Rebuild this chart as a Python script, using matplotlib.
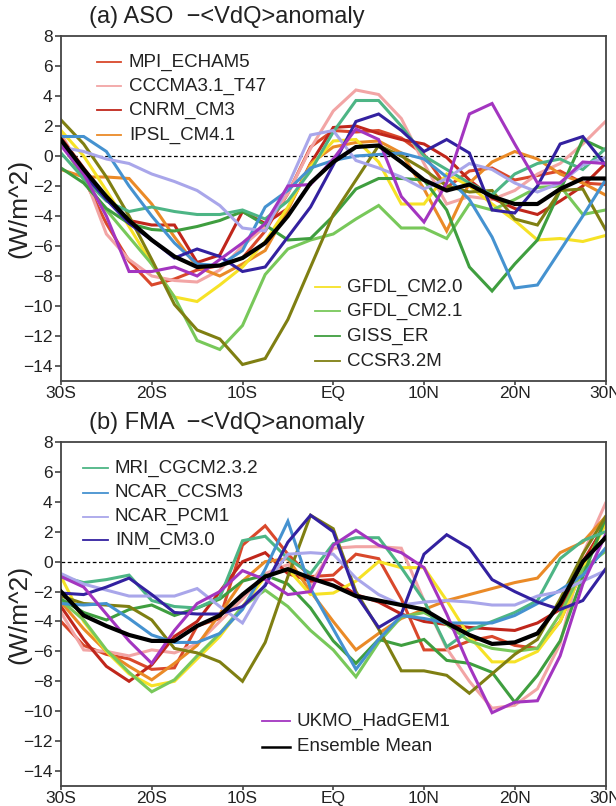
import matplotlib
matplotlib.use("Agg")
import matplotlib.pyplot as plt
from matplotlib.lines import Line2D

plt.rcParams['font.family'] = ['Liberation Sans', 'DejaVu Sans']

# latitude grid (degrees, negative = south)
lat = [-30, -27.5, -25, -22.5, -20, -17.5, -15, -12.5, -10, -7.5, -5, -2.5, 0,
       2.5, 5, 7.5, 10, 12.5, 15, 17.5, 20, 22.5, 25, 27.5, 30]

xtick_pos = [-30, -20, -10, 0, 10, 20, 30]
xtick_lab = ['30S', '20S', '10S', 'EQ', '10N', '20N', '30N']
ytick_pos = [-14, -12, -10, -8, -6, -4, -2, 0, 2, 4, 6, 8]

models = ['MPI_ECHAM5', 'CCCMA3.1_T47', 'CNRM_CM3', 'IPSL_CM4.1', 'GFDL_CM2.0',
          'GFDL_CM2.1', 'GISS_ER', 'CCSR3.2M', 'MRI_CGCM2.3.2', 'NCAR_CCSM3',
          'NCAR_PCM1', 'INM_CM3.0', 'UKMO_HadGEM1']
colors = ['#d9482b', '#f2a5a5', '#c0261b', '#ea8a27', '#f6e226',
          '#78c85a', '#3f9e3f', '#7f7f12', '#4db585', '#4592d0',
          '#a9a6ea', '#3321a0', '#a335c0']

# ---- (a) ASO -<VdQ> anomaly (W/m^2)
aso_mpi = [1.3, -1.5, -4.5, -7.0, -8.6, -8.2, -7.6, -7.3, -6.8, -5.0, -2.5, 0.6, 1.7,
           1.6, 1.7, 1.2, 0.1, -2.1, -1.0, -0.8, -1.6, -1.3, -1.0, -1.8, -1.9]
aso_cccma = [1.5, -1.2, -5.2, -6.9, -8.0, -8.3, -8.4, -7.6, -6.0, -4.7, -2.5, 0.5, 3.0,
             4.4, 4.1, 2.5, -0.5, -3.2, -2.7, -2.9, -2.3, -1.2, -0.5, 0.8, 2.3]
aso_cnrm = [1.2, -0.8, -2.8, -4.3, -4.6, -4.6, -7.1, -6.6, -3.7, -4.5, -3.5, -0.5, 1.9,
            2.0, 1.5, 1.1, 0.8, -0.1, -1.6, -2.8, -3.5, -3.9, -3.0, -2.0, -0.5]
aso_ipsl = [-0.9, -1.4, -1.4, -1.5, -3.2, -5.4, -7.4, -8.0, -7.2, -6.3, -3.6, -0.5, 0.6,
            0.9, 1.0, 0.2, -2.2, -5.0, -1.8, -0.4, 0.3, -0.2, -1.2, -1.8, -2.6]
aso_gfdl20 = [1.7, 0.0, -2.3, -4.7, -7.2, -9.4, -9.7, -8.6, -7.4, -5.7, -3.4, -0.7, 1.0,
              1.1, -0.4, -3.2, -3.2, -1.2, -2.0, -3.2, -4.3, -5.6, -5.5, -5.7, -5.3]
aso_gfdl21 = [1.0, -1.6, -3.6, -5.4, -7.2, -9.4, -12.3, -12.9, -11.3, -7.9, -6.2, -5.6, -5.2,
              -4.2, -3.3, -4.8, -4.8, -5.5, -3.2, -3.6, -2.9, -2.1, -2.0, -3.9, -3.6]
aso_giss = [-0.8, -1.8, -3.5, -4.5, -4.9, -5.0, -4.7, -4.3, -3.7, -4.6, -5.6, -5.5, -4.0,
            -2.2, -1.5, -1.5, -1.6, -3.6, -7.4, -9.0, -7.2, -5.6, -2.3, 1.1, 0.4]
aso_ccsr = [2.4, 0.8, -1.4, -4.0, -6.9, -9.9, -11.6, -12.2, -13.9, -13.5, -10.9, -7.4, -3.9,
            -1.6, 0.7, 0.0, -0.9, -2.0, -2.4, -2.3, -4.2, -4.6, -2.3, -2.2, -4.9]
aso_mri = [0.2, -1.5, -3.0, -3.7, -3.4, -3.7, -3.9, -3.9, -3.6, -4.2, -3.0, -1.0, 1.6,
           3.7, 3.7, 2.0, 0.0, -0.9, -1.8, -2.6, -1.2, -0.5, -0.2, -0.9, 0.5]
aso_ccsm = [1.3, 1.3, 0.3, -2.0, -4.0, -5.8, -7.2, -7.3, -6.3, -3.4, -2.3, -0.8, -0.3,
            0.0, 0.1, 0.2, -0.2, -1.4, -2.9, -5.4, -8.8, -8.6, -6.3, -4.0, -1.6]
aso_pcm = [0.6, 0.3, -0.2, -0.5, -1.2, -1.7, -2.3, -3.3, -4.8, -5.0, -2.0, 1.4, 1.7,
           -0.3, -0.8, -1.4, -2.2, -1.5, -0.5, -0.9, -1.8, -2.4, -1.8, -0.6, -0.1]
aso_inm = [0.8, -1.2, -2.9, -4.5, -5.6, -6.8, -6.2, -6.7, -7.7, -7.4, -5.4, -3.4, -0.6,
           2.3, 2.8, 1.7, 0.3, 1.1, 0.2, -3.6, -3.8, -2.0, 0.8, 1.3, -0.6]
aso_ukmo = [0.7, -1.2, -4.0, -7.7, -7.7, -7.4, -8.0, -6.9, -5.8, -4.5, -2.0, -1.9, -0.2,
            1.8, 1.1, -2.7, -4.4, -1.8, 2.8, 3.5, 0.8, -1.8, -1.8, -0.4, -0.5]
aso_mean = [1.07, -0.9, -2.7, -4.3, -5.6, -6.7, -7.4, -7.3, -6.8, -5.8, -4.0, -1.8, -0.4,
            0.6, 0.7, -0.4, -1.6, -2.3, -1.9, -2.7, -3.2, -3.2, -2.2, -1.5, -1.5]

# ---- (b) FMA -<VdQ> anomaly (W/m^2)
fma_mpi = [-4.0, -5.6, -6.2, -6.5, -7.2, -7.1, -4.3, -3.8, 1.1, 2.4, 0.5, -1.0, -0.9,
           0.5, 0.2, -2.5, -5.9, -5.9, -5.3, -5.0, -5.6, -5.8, -4.0, -0.5, 2.8]
fma_cccma = [-3.4, -5.9, -6.0, -6.3, -5.9, -6.1, -5.5, -4.0, -2.5, -0.8, -0.2, -1.5, 0.9,
             1.0, 1.0, 0.9, -2.6, -5.8, -8.0, -9.8, -9.6, -8.5, -5.5, 0.5, 3.9]
fma_cnrm = [-3.0, -5.2, -7.0, -8.0, -6.9, -5.0, -4.0, -2.0, 0.0, 0.6, -0.8, -1.3, -1.2,
            -2.2, -2.7, -3.5, -4.0, -4.2, -4.4, -4.5, -4.6, -4.1, -3.2, 0.0, 2.5]
fma_ipsl = [-2.7, -4.5, -6.0, -7.0, -7.9, -6.8, -5.6, -3.5, -1.3, 0.0, 0.2, -2.0, -4.0,
            -5.9, -4.8, -3.8, -3.2, -2.6, -2.2, -1.8, -1.4, -1.1, 0.6, 1.3, 3.0]
fma_gfdl20 = [-1.0, -4.0, -6.0, -7.5, -8.3, -8.0, -6.5, -5.0, -3.0, -1.0, -0.5, -2.2, -2.1,
              -1.3, 0.0, -0.4, -0.4, -2.6, -5.0, -6.7, -6.7, -6.0, -4.0, -0.5, 2.5]
fma_gfdl21 = [-2.6, -3.9, -5.9, -7.4, -8.7, -7.9, -6.3, -4.8, -3.0, -1.9, -3.0, -4.6, -5.9,
              -7.7, -5.4, -3.7, -3.4, -4.2, -5.3, -5.8, -6.0, -5.8, -3.5, -0.5, 0.7]
fma_giss = [-2.5, -3.4, -3.9, -3.2, -2.9, -3.6, -3.1, -2.5, -1.3, -0.9, -1.5, -3.1, -5.3,
            -6.8, -5.2, -5.6, -5.2, -6.6, -6.8, -7.4, -9.4, -7.6, -5.3, -1.0, 2.9]
fma_ccsr = [-2.3, -2.8, -2.9, -3.0, -3.9, -5.8, -6.1, -6.7, -8.0, -5.4, -1.0, 3.1, 2.2,
            -2.0, -4.5, -7.3, -7.3, -7.6, -8.8, -7.5, -6.2, -5.2, -2.5, 0.5, 3.0]
fma_mri = [-1.0, -1.4, -1.2, -0.9, -2.6, -3.0, -3.1, -2.4, 1.4, 1.7, 0.2, -0.8, 1.2,
           1.6, 1.6, -0.4, -2.6, -5.7, -4.6, -4.0, -3.4, -2.6, 0.2, 1.4, 2.0]
fma_ccsm = [-2.8, -2.9, -2.8, -3.8, -4.9, -5.4, -5.4, -4.8, -3.2, -0.5, 2.7, -1.8, -4.5,
            -7.2, -5.2, -3.6, -3.8, -4.1, -4.1, -4.1, -3.6, -2.8, -1.9, -0.9, 0.9]
fma_pcm = [-0.8, -1.5, -1.9, -2.3, -2.3, -2.3, -1.8, -3.0, -4.1, -1.5, 0.5, 0.6, 0.5,
           -1.1, -2.2, -2.9, -2.7, -2.6, -2.7, -2.9, -2.9, -2.3, -2.0, -1.3, -0.6]
fma_inm = [-2.1, -2.2, -1.7, -1.1, -2.2, -3.4, -3.5, -3.5, -3.0, -1.6, 1.3, 3.1, 2.0,
           -2.2, -4.4, -3.5, 0.5, 1.8, 0.9, -1.2, -2.0, -2.7, -3.2, -2.6, -0.5]
fma_ukmo = [-1.0, -1.7, -3.5, -5.3, -6.8, -4.6, -2.8, -2.0, -0.6, -1.2, -2.2, -2.0, 1.1,
            2.1, 1.1, 0.6, -0.4, -3.5, -7.0, -10.1, -9.4, -9.3, -6.3, -1.5, 1.8]
fma_mean = [-2.0, -3.6, -4.3, -4.9, -5.3, -5.3, -4.3, -3.6, -2.2, -1.0, -0.5, -1.1, -1.6,
            -2.3, -2.6, -2.9, -3.2, -4.1, -4.9, -5.5, -5.4, -4.8, -2.8, 0.0, 1.6]

aso_series = [aso_mpi, aso_cccma, aso_cnrm, aso_ipsl, aso_gfdl20, aso_gfdl21, aso_giss,
              aso_ccsr, aso_mri, aso_ccsm, aso_pcm, aso_inm, aso_ukmo]
fma_series = [fma_mpi, fma_cccma, fma_cnrm, fma_ipsl, fma_gfdl20, fma_gfdl21, fma_giss,
              fma_ccsr, fma_mri, fma_ccsm, fma_pcm, fma_inm, fma_ukmo]

W, H = 616, 806
AX_L, AX_R = 61, 605.5
fig = plt.figure(figsize=(W / 100, H / 100), dpi=100)


def frame(top, bottom):
    return [AX_L / W, 1 - bottom / H, (AX_R - AX_L) / W, (bottom - top) / H]


ax_a = fig.add_axes(frame(36, 381))
ax_b = fig.add_axes(frame(442, 786))


def style(ax, title, top, bottom):
    ax.set_xlim(-30, 30)
    ax.set_ylim(-15, 8)
    ax.set_xticks(xtick_pos)
    ax.set_xticklabels(xtick_lab)
    ax.set_yticks(ytick_pos)
    ax.set_yticklabels([str(v).replace('-', '\u2212') for v in ytick_pos])
    ax.tick_params(axis='both', direction='out', width=1.1,
                   labelsize=12.5, colors='#333333', labelcolor='#222222')
    ax.tick_params(axis='x', length=3, pad=0.5)
    ax.tick_params(axis='y', length=4, pad=2)
    for s in ax.spines.values():
        s.set_linewidth(1.3)
        s.set_color('#444444')
    ax.axhline(0, color='black', lw=0.9, ls=(0, (3, 2)), zorder=1)
    ax.set_ylabel('(W/m^2)', fontsize=19, color='#222222')
    ax.yaxis.set_label_coords((31 - AX_L) / (AX_R - AX_L), 0.5)
    ax.text((89 - AX_L) / (AX_R - AX_L), (bottom - (top - 19)) / (bottom - top), title,
            transform=ax.transAxes, fontsize=17, ha='left', va='center', color='#222222')


def draw(ax, series, mean):
    for vals, c in zip(series, colors):
        ax.plot(lat, vals, color=c, lw=2.2, solid_joinstyle='miter', zorder=2)
    ax.plot(lat, mean, color='black', lw=3.0, zorder=3)


def key(ax, top, bottom, entries, x0, x1, xt, ys, fs):
    # legend rows placed at pixel positions inside the axes frame
    span = AX_R - AX_L
    for (lab, c, lw), y in zip(entries, ys):
        yf = (bottom - y) / (bottom - top)
        ax.add_line(Line2D([(x0 - AX_L) / span, (x1 - AX_L) / span], [yf, yf],
                           transform=ax.transAxes, color=c, lw=lw))
        ax.text((xt - AX_L) / span, yf, lab, transform=ax.transAxes,
                fontsize=fs, va='center', ha='left', color='#222222')


style(ax_a, '(a) ASO  \u2212<VdQ>anomaly', 36, 381)
style(ax_b, '(b) FMA  \u2212<VdQ>anomaly', 442, 786)
draw(ax_a, aso_series, aso_mean)
draw(ax_b, fma_series, fma_mean)

ent = [(m, c, 1.3) for m, c in zip(models, colors)]
key(ax_a, 36, 381, ent[0:4], 97, 121, 129, [62, 86, 110, 135], 13.5)
key(ax_a, 36, 381, ent[4:8], 315, 340, 347, [287, 311, 336, 361], 13.5)
key(ax_b, 442, 786, ent[8:12], 83, 108, 115, [468, 492.5, 516.5, 540], 13.5)
key(ax_b, 442, 786, [ent[12], ('Ensemble Mean', 'black', 1.8)], 262, 290, 297,
    [721, 746.5], 13.5)

fig.savefig('out.png', dpi=100)
